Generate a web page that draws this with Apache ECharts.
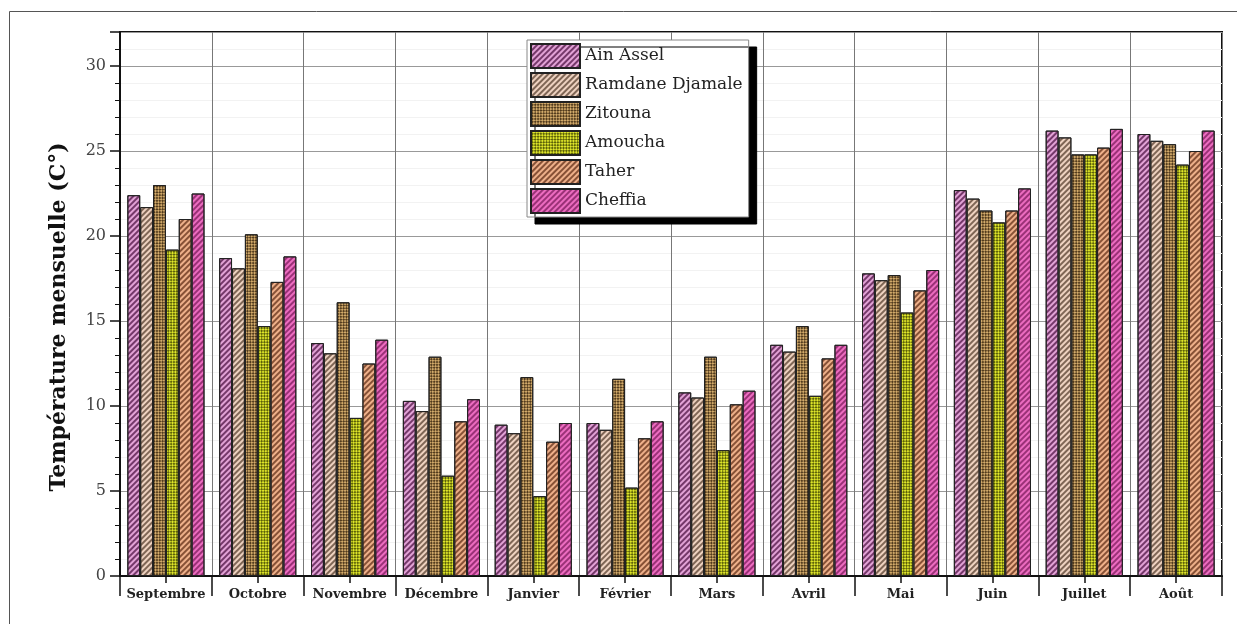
<!DOCTYPE html>
<html>
<head>
<meta charset="utf-8">
<script src="https://cdn.jsdelivr.net/npm/echarts@6/dist/echarts.min.js"></script>
<style>
  html, body { margin: 0; padding: 0; background: #fff; }
  #chart { width: 1237px; height: 624px; }
</style>
</head>
<body>
<div id="chart"></div>
<script>
// Monthly mean temperature (°C) per station
const months = ['Septembre', 'Octobre', 'Novembre', 'Décembre', 'Janvier', 'Février', 'Mars', 'Avril', 'Mai', 'Juin', 'Juillet', 'Août'];
const stations = ['Ain Assel', 'Ramdane Djamale', 'Zitouna', 'Amoucha', 'Taher', 'Cheffia'];
const ainAssel = [22.4, 18.7, 13.7, 10.3, 8.9, 9.0, 10.8, 13.6, 17.8, 22.7, 26.2, 26.0];
const ramdaneDjamale = [21.7, 18.1, 13.1, 9.7, 8.4, 8.6, 10.5, 13.2, 17.4, 22.2, 25.8, 25.6];
const zitouna = [23.0, 20.1, 16.1, 12.9, 11.7, 11.6, 12.9, 14.7, 17.7, 21.5, 24.8, 25.4];
const amoucha = [19.2, 14.7, 9.3, 5.9, 4.7, 5.2, 7.4, 10.6, 15.5, 20.8, 24.8, 24.2];
const taher = [21.0, 17.3, 12.5, 9.1, 7.9, 8.1, 10.1, 12.8, 16.8, 21.5, 25.2, 25.0];
const cheffia = [22.5, 18.8, 13.9, 10.4, 9.0, 9.1, 10.9, 13.6, 18.0, 22.8, 26.3, 26.2];
const yTicks = [0, 5, 10, 15, 20, 25, 30];

const values = [ainAssel, ramdaneDjamale, zitouna, amoucha, taher, cheffia];

// Fill styles: diagonal hatching or checkered dots over a base colour
const stripe = (c) => ({ symbol: 'rect', color: c, dashArrayX: [1, 0], dashArrayY: [2, 2], rotation: -Math.PI / 4 });
const checker = (c) => ({ symbol: 'rect', color: c, dashArrayX: [[2, 2], [0, 2, 2, 0]], dashArrayY: [2, 0], rotation: Math.PI / 4 });
const fills = [
  { color: '#e2a2d6', decal: stripe('rgba(80,20,70,0.75)') },
  { color: '#eed2c0', decal: stripe('rgba(90,65,50,0.75)') },
  { color: '#d2aa6a', decal: checker('rgba(60,40,15,0.85)') },
  { color: '#dfe62a', decal: checker('rgba(60,65,0,0.8)') },
  { color: '#eeb08a', decal: stripe('rgba(100,50,25,0.75)') },
  { color: '#ec6cc0', decal: stripe('rgba(100,10,70,0.6)') }
];

const serif = 'DejaVu Serif';

const chart = echarts.init(document.getElementById('chart'), null, { renderer: 'canvas' });

chart.setOption({
  animation: false,
  backgroundColor: '#fff',
  grid: {
    left: 120, right: 15, top: 32, bottom: 48,
    show: true, borderColor: '#111', borderWidth: 2, backgroundColor: 'transparent'
  },
  legend: {
    data: stations,
    orient: 'vertical',
    left: 527, top: 40,
    icon: 'rect',
    itemWidth: 49, itemHeight: 24, itemGap: 3,
    padding: [3, 6, 3, 3],
    backgroundColor: '#fff',
    borderColor: '#888', borderWidth: 1,
    shadowColor: '#000', shadowBlur: 0, shadowOffsetX: 8, shadowOffsetY: 7,
    textStyle: { fontFamily: serif, fontSize: 17, color: '#222' }
  },
  xAxis: [{
    type: 'category',
    data: months,
    axisLine: { lineStyle: { color: '#111', width: 2 } },
    axisTick: { show: true, interval: 0, length: 20, lineStyle: { color: '#111', width: 1.5 } },
    axisLabel: { interval: 0, fontFamily: serif, fontWeight: 'bold', fontSize: 13, color: '#222', margin: 12 },
    splitLine: { show: true, interval: 0, lineStyle: { color: '#777', width: 1 } }
  }, {
    type: 'category',
    data: months,
    position: 'bottom',
    axisLine: { show: false },
    axisTick: { show: true, interval: 0, alignWithLabel: true, length: 7, lineStyle: { color: '#111', width: 1.5 } },
    axisLabel: { show: false },
    splitLine: { show: false }
  }],
  yAxis: {
    type: 'value',
    min: 0, max: 32, interval: 5,
    name: 'Température mensuelle (C°)',
    nameLocation: 'middle',
    nameGap: 50,
    nameRotate: 90,
    nameTextStyle: { fontFamily: serif, fontWeight: 'bold', fontSize: 22, color: '#111', padding: [0, 26, 0, 0] },
    axisLine: { show: true, lineStyle: { color: '#111', width: 2 } },
    axisTick: { show: true, length: 10, lineStyle: { color: '#111', width: 1.5 } },
    minorTick: { show: true, splitNumber: 5, length: 5, lineStyle: { color: '#111', width: 1 } },
    axisLabel: {
      fontFamily: serif, fontSize: 16, color: '#444', margin: 14,
      showMaxLabel: false,
      formatter: (v) => (yTicks.indexOf(v) >= 0 ? String(v) : '')
    },
    splitLine: { show: true, lineStyle: { color: '#999', width: 1 } },
    minorSplitLine: { show: true, lineStyle: { color: '#f2f2f2', width: 1 } }
  },
  graphic: [{
    type: 'polyline',
    silent: true,
    shape: { points: [[9.5, 624], [9.5, 11.5], [1237, 11.5]] },
    style: { stroke: '#555', lineWidth: 1, fill: null }
  }],
  series: stations.map((name, i) => ({
    name: name,
    type: 'bar',
    xAxisIndex: 0,
    data: values[i],
    barGap: '0%',
    barCategoryGap: '16%',
    itemStyle: {
      color: fills[i].color,
      decal: fills[i].decal,
      borderColor: '#222',
      borderWidth: 1
    }
  }))
});
</script>
</body>
</html>
